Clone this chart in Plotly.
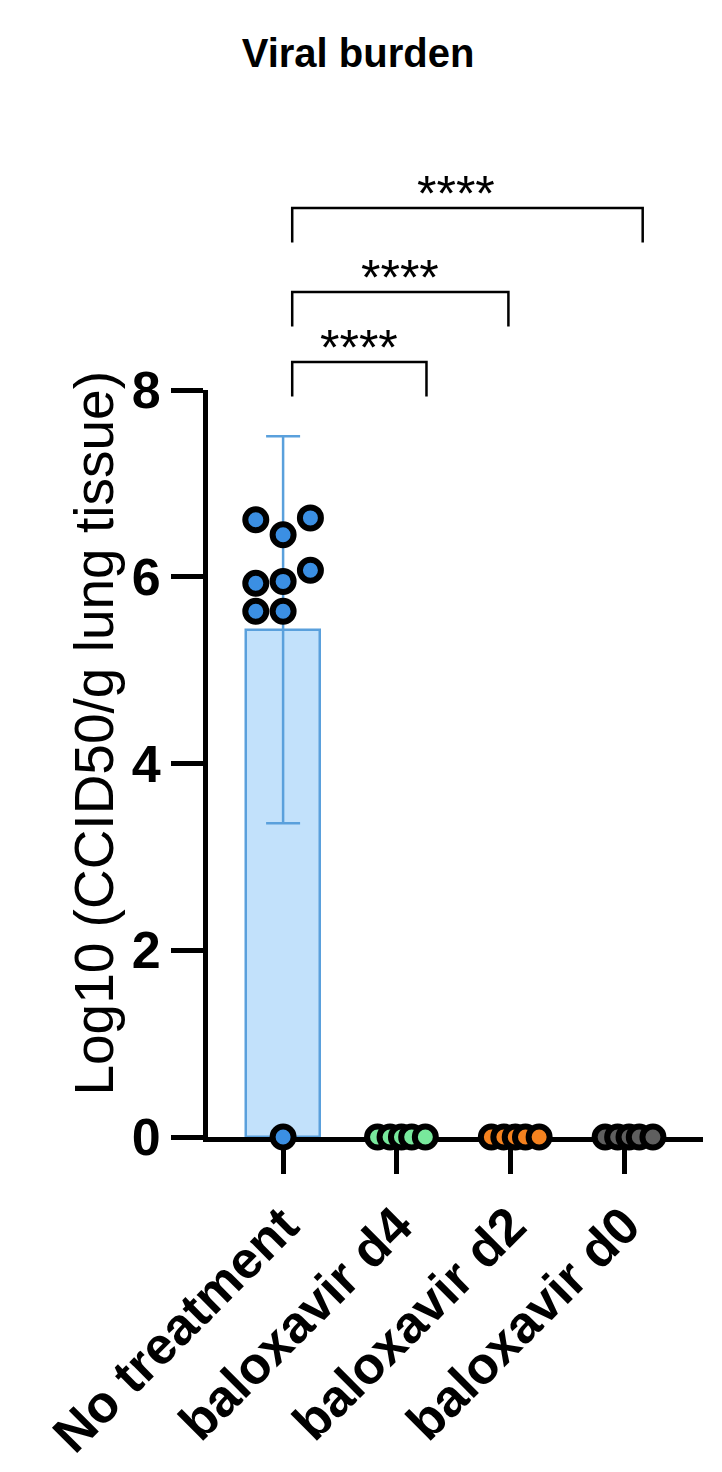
import numpy as np
import plotly.graph_objects as go

# data
groups = ["No treatment", "baloxavir d4", "baloxavir d2", "baloxavir d0"]
no_treatment = [6.61, 6.45, 6.63, 6.07, 5.93, 5.95, 5.63, 5.63, 0.0]
baloxavir_d4 = [0, 0, 0, 0, 0]
baloxavir_d2 = [0, 0, 0, 0, 0]
baloxavir_d0 = [0, 0, 0, 0, 0]
# comparisons (from, to, label)
comparisons = [("No treatment", "baloxavir d4", "****"),
               ("No treatment", "baloxavir d2", "****"),
               ("No treatment", "baloxavir d0", "****")]

# layout stuff (horizontal scatter of the dots, bracket placement)
nt_jitter = [-0.24, 0, 0.24, 0.24, -0.24, 0, -0.24, 0, 0]
zero_jitter = [-0.17, -0.06, 0.04, 0.13, 0.25]
bracket_x = [(0.08, 1.26), (0.08, 1.98), (0.08, 3.16)]
bracket_lvl = [8.3, 9.05, 9.95]
star_shift = [0.0, 0.0, -0.1]

fills = ["#3b8fe3", "#78e89c", "#f5821f", "#5f5f5f"]
FONT = "Arial, Liberation Sans, sans-serif"

nt = np.array(no_treatment)
mean_nt = nt.mean()
sd_nt = nt.std(ddof=1)

fig = go.Figure()
fig.add_trace(go.Bar(x=[0], y=[mean_nt], width=0.65,
                     marker=dict(color="#c2e1fb", line=dict(color="#5aa0dc", width=2.5)),
                     error_y=dict(type="data", array=[sd_nt], color="#5aa0dc",
                                  thickness=2.5, width=17),
                     showlegend=False, hoverinfo="skip"))

all_vals = [no_treatment, baloxavir_d4, baloxavir_d2, baloxavir_d0]
for i, vals in enumerate(all_vals):
    jit = nt_jitter if i == 0 else zero_jitter
    fig.add_trace(go.Scatter(x=[i + j for j in jit], y=vals, mode="markers",
                             marker=dict(size=21, color=fills[i],
                                         line=dict(color="black", width=6)),
                             cliponaxis=False, showlegend=False, name=groups[i]))

# significance brackets
for (x0, x1), lvl, sh, (a, b, lab) in zip(bracket_x, bracket_lvl, star_shift, comparisons):
    top = lvl / 8
    drop = 0.37 / 8
    fig.add_shape(type="path", xref="x", yref="paper",
                  path=f"M {x0},{top - drop} L {x0},{top} L {x1},{top} L {x1},{top - drop}",
                  line=dict(color="black", width=2.5))
    fig.add_annotation(x=(x0 + x1) / 2 + sh, xref="x", y=top, yref="paper",
                       text=lab, showarrow=False, yanchor="bottom", yshift=-16,
                       font=dict(family=FONT, size=50, color="black"))

fig.add_annotation(text="Log10 (CCID50/g lung tissue)", textangle=-90,
                   xref="paper", x=0, xshift=-114, xanchor="center",
                   yref="paper", y=0.54, yanchor="middle", showarrow=False,
                   font=dict(family=FONT, size=55, color="black"))

fig.update_layout(
    width=722, height=1472,
    margin=dict(l=200, r=27, t=382, b=343),
    plot_bgcolor="white", paper_bgcolor="white",
    title=dict(text="<b>Viral burden</b>", x=350 / 722, y=1 - 45 / 1472,
               xanchor="center", yanchor="middle",
               font=dict(family=FONT, size=40, color="black")),
    bargap=0,
)
fig.update_xaxes(range=[-0.66, 3.69], tickvals=list(range(len(groups))), ticktext=groups,
                 tickangle=-45, showline=True, linecolor="black", linewidth=5,
                 ticks="outside", ticklen=32, tickwidth=5, tickcolor="black",
                 showgrid=False, zeroline=False, layer="below traces",
                 tickfont=dict(family=FONT, size=52, color="black", weight="bold"),
                 automargin=False)
fig.update_yaxes(range=[0, 8], tickvals=[0, 2, 4, 6, 8], showline=True, linecolor="black",
                 linewidth=5, ticks="outside", ticklen=32, tickwidth=5, tickcolor="black",
                 showgrid=False, zeroline=False,
                 tickfont=dict(family=FONT, size=52, color="black", weight="bold"),
                 automargin=False)

fig.write_html("out.html")
